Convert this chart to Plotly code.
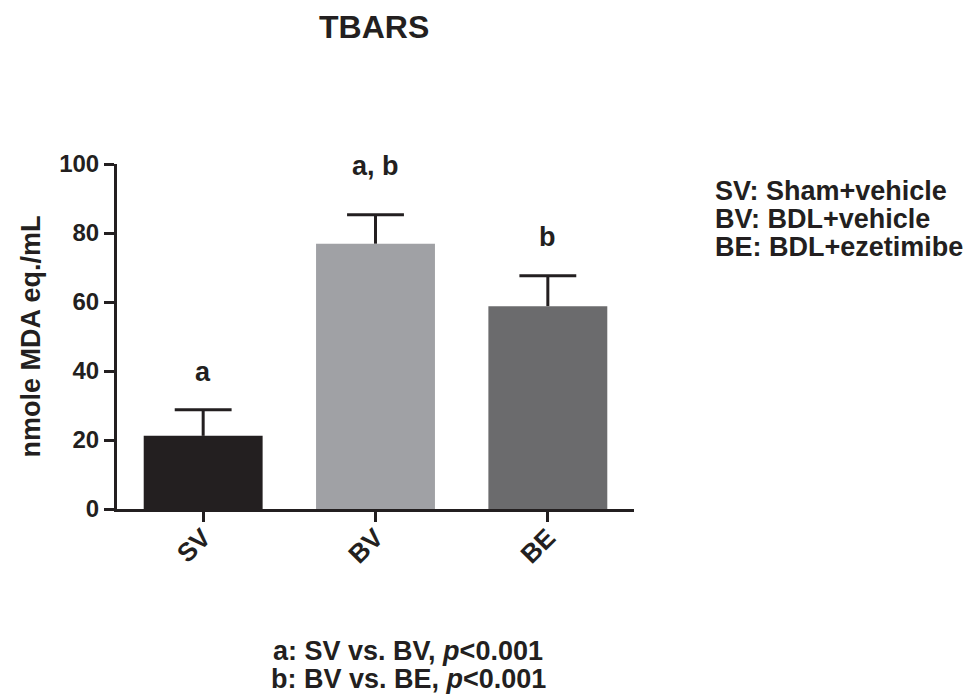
import plotly.graph_objects as go

# ---- data ----
groups = ["SV", "BV", "BE"]
means = [21.2, 76.9, 58.8]
sems = [7.6, 8.4, 8.8]
sig_labels = ["a", "a, b", "b"]
legend_lines = ["SV: Sham+vehicle", "BV: BDL+vehicle", "BE: BDL+ezetimibe"]
footnote_lines = ["a: SV vs. BV, <i>p</i>&lt;0.001", "b: BV vs. BE, <i>p</i>&lt;0.001"]
y_ticks = [0, 20, 40, 60, 80, 100]

# ---- style ----
INK = "#231f20"
bar_colors = ["#231f20", "#a0a1a5", "#6b6b6d"]
FONT = "Liberation Sans, Arial, sans-serif"
OFF = 8  # page body margin offset
W, H = 978 - OFF, 697 - OFF
L, R, T, B = 117 - OFF, 634 - OFF, 164 - OFF, 509 - OFF
BAR_W = 0.69
CAP_HALF = 0.165

def px_x(px):
    return (px - OFF - L) / (R - L)

def px_y(py):
    return (B - (py - OFF)) / (B - T)

xs = list(range(len(groups)))

fig = go.Figure()
fig.add_trace(go.Bar(
    x=xs, y=means,
    marker=dict(color=bar_colors, line=dict(width=0)),
    width=BAR_W,
    showlegend=False, hoverinfo="y",
))

# upper-only error bars (stem + top cap)
ex, ey = [], []
for i, m, s in zip(xs, means, sems):
    ex += [i, i, None, i - CAP_HALF, i + CAP_HALF, None]
    ey += [m, m + s, None, m + s, m + s, None]
fig.add_trace(go.Scatter(x=ex, y=ey, mode="lines", line=dict(color=INK, width=3),
                         showlegend=False, hoverinfo="skip", connectgaps=False))

ann = []
label_gap = [21, 32, 22]
for i, m, s, lab, gap in zip(xs, means, sems, sig_labels, label_gap):
    ann.append(dict(x=i, y=m + s, xref="x", yref="y", text=lab, showarrow=False,
                    yanchor="bottom", yshift=gap,
                    font=dict(family=FONT, size=27, color=INK, weight="bold")))

# title
ann.append(dict(x=px_x(374), y=px_y(27), xref="paper", yref="paper", text="TBARS",
                showarrow=False, xanchor="center", yanchor="middle",
                font=dict(family=FONT, size=32, color=INK, weight="bold")))
# y-axis title
ann.append(dict(x=px_x(30), y=0.5, xref="paper", yref="paper", text="nmole MDA eq./mL",
                showarrow=False, xanchor="center", yanchor="middle", textangle=-90,
                font=dict(family=FONT, size=27, color=INK, weight="bold")))
# legend text
for i, line in enumerate(legend_lines):
    ann.append(dict(x=px_x(713), y=px_y(191 + 28 * i), xref="paper", yref="paper", text=line,
                    showarrow=False, xanchor="left", yanchor="middle",
                    font=dict(family=FONT, size=27, color=INK, weight="bold")))
# footnotes
for i, line in enumerate(footnote_lines):
    ann.append(dict(x=px_x(408), y=px_y(651 + 28 * i), xref="paper", yref="paper", text=line,
                    showarrow=False, xanchor="center", yanchor="middle",
                    font=dict(family=FONT, size=27, color=INK, weight="bold")))

fig.update_layout(
    width=W, height=H,
    margin=dict(l=L, r=W - R, t=T, b=H - B, autoexpand=False),
    paper_bgcolor="white", plot_bgcolor="white",
    annotations=ann,
    xaxis=dict(range=[-0.5, 2.5], tickvals=xs, ticktext=groups,
               showline=True, linewidth=3, linecolor=INK,
               ticks="outside", ticklen=10, tickwidth=3, tickcolor=INK,
               tickangle=-45, showgrid=False, zeroline=False, ticklabelstandoff=-10,
               tickfont=dict(family=FONT, size=26, color=INK, weight="bold")),
    yaxis=dict(range=[0, 100], tickvals=y_ticks, showline=True, linewidth=3, linecolor=INK,
               ticks="outside", ticklen=10, tickwidth=3, tickcolor=INK,
               showgrid=False, zeroline=False,
               tickfont=dict(family=FONT, size=24, color=INK, weight="bold")),
)

fig.write_html("out.html")
